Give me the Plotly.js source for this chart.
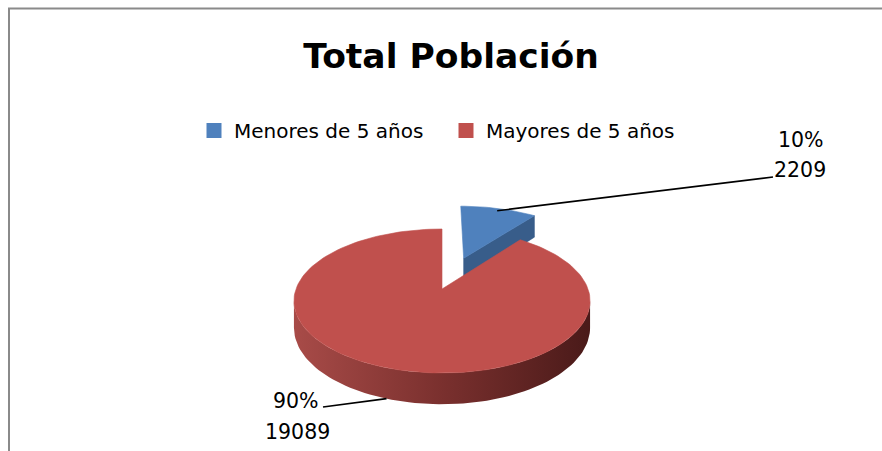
<!DOCTYPE html>
<html><head><meta charset="utf-8">
<script src="https://cdn.plot.ly/plotly-3.0.1.min.js"></script>
<style>html,body{margin:0;padding:0;background:#fff;}#chart{width:882px;height:451px;}</style>
</head><body><div id="chart"></div>
<script>
// ---- data ----
const categories = ['Menores de 5 años', 'Mayores de 5 años'];
const values = [2209, 19089];
const chartTitle = 'Total Población';

// ---- styles ----
const topColors = ['#4F81BD', '#C0504D'];
const cutColors = ['#385D8A', '#8C3836'];
const sideScale = [[0, '#a84b48'], [0.5, '#7a302e'], [1, '#4a1a19']];
const FONT = 'DejaVu Sans';

// ---- geometry (pixel space) ----
const W = 882, H = 451;
const cx = 442, cy = 289, A = 146, B = 70, K = 0.1667, D = 26;
const explode = [0.5, 0];
const deg = Math.PI / 180;
function proj(u, s, down) { const w = 1 + K * s; return [cx + A * u / w, cy - B * s / w + (down ? D / w : 0)]; }
const total = values.reduce((a, b) => a + b, 0);
let acc = 0;
const slices = values.map((v, i) => {
  const a0 = acc / total * 360; acc += v; const a1 = acc / total * 360;
  const mid = (a0 + a1) / 2, e = explode[i];
  return { a0, a1, mid, ou: e * Math.sin(mid * deg), os: e * Math.cos(mid * deg) };
});
function pt(sl, r, phi, down) { return proj(sl.ou + r * Math.sin(phi * deg), sl.os + r * Math.cos(phi * deg), down); }
function arc(sl, p0, p1, down) {
  const n = Math.max(2, Math.ceil(Math.abs(p1 - p0) / 2)); const out = [];
  for (let k = 0; k <= n; k++) out.push(pt(sl, 1, p0 + (p1 - p0) * k / n, down));
  return out;
}
function poly(points, color, extra) {
  const pts = points.concat([points[0]]);
  return Object.assign({
    type: 'scatter', mode: 'lines', x: pts.map(p => p[0]), y: pts.map(p => p[1]),
    fill: 'toself', fillcolor: color, line: { width: 0.6, color: color },
    hoverinfo: 'skip', showlegend: false
  }, extra || {});
}
const phiR = Math.acos(-K) / deg, phiL = 360 - phiR;
const traces = [];
slices.forEach((sl, i) => {
  // visible outer side
  const s0 = Math.max(sl.a0, phiR), s1 = Math.min(sl.a1, phiL);
  if (s1 > s0) {
    const top = arc(sl, s0, s1, false), bot = arc(sl, s1, s0, true);
    const t = poly(top.concat(bot), '#7a302e', { line: { width: 0 } });
    delete t.fillcolor;
    t.fillgradient = { type: 'horizontal', colorscale: sideScale };
    traces.push(t);
  }
  // cut face at end angle if it faces the viewer
  if (-Math.sin(sl.a1 * deg) < -1e-6) {
    traces.push(poly([pt(sl, 0, sl.a1, false), pt(sl, 1, sl.a1, false), pt(sl, 1, sl.a1, true), pt(sl, 0, sl.a1, true)], cutColors[i]));
  }
  // top face
  traces.push(poly([pt(sl, 0, 0, false)].concat(arc(sl, sl.a0, sl.a1, false)), topColors[i]));
});

// leader lines
const leaderEnds = [[[762, 179], [773, 177]], [[323, 407]]];
const leaderStarts = [pt(slices[0], 0.95, slices[0].mid, false), pt(slices[1], 1, slices[1].mid, true)];
leaderStarts.forEach((s, i) => {
  const pts = [s].concat(leaderEnds[i]);
  traces.push({ type: 'scatter', mode: 'lines', x: pts.map(p => p[0]), y: pts.map(p => p[1]),
    line: { color: '#000', width: 1.6 }, hoverinfo: 'skip', showlegend: false });
});

// legend entries
categories.forEach((c, i) => traces.push({
  type: 'scatter', mode: 'markers', x: [null], y: [null], name: c,
  marker: { symbol: 'square', size: 15, color: topColors[i] }, hoverinfo: 'skip', showlegend: true
}));

// labels
const pctPos = [[801, 140], [296, 401]];
const valPos = [[800, 170], [297, 432]];
const annotations = [];
values.forEach((v, i) => {
  annotations.push({ x: pctPos[i][0], y: pctPos[i][1], xref: 'x', yref: 'y', text: Math.round(v / total * 100) + '%',
    showarrow: false, font: { family: FONT, size: 20.5, color: '#000' }, xanchor: 'center', yanchor: 'middle' });
  annotations.push({ x: valPos[i][0], y: valPos[i][1], xref: 'x', yref: 'y', text: String(v),
    showarrow: false, font: { family: FONT, size: 20.5, color: '#000' }, xanchor: 'center', yanchor: 'middle' });
});

const layout = {
  width: W, height: H, margin: { l: 0, r: 0, t: 0, b: 0, pad: 0 },
  paper_bgcolor: '#fff', plot_bgcolor: 'rgba(0,0,0,0)',
  xaxis: { range: [0, W], visible: false, fixedrange: true },
  yaxis: { range: [H, 0], visible: false, fixedrange: true },
  title: { text: chartTitle, x: 451 / W, xanchor: 'center', y: 1 - 56 / H, yanchor: 'middle',
    font: { family: FONT, size: 34.5, color: '#000', weight: 'bold' } },
  showlegend: true,
  legend: { orientation: 'h', x: 194 / W, xanchor: 'left', y: 1 - 111 / H, yanchor: 'top',
    font: { family: FONT, size: 20, color: '#000' }, bgcolor: 'rgba(0,0,0,0)', entrywidth: 207,
    itemclick: false, itemdoubleclick: false, traceorder: 'normal' },
  annotations: annotations,
  shapes: [
    { type: 'line', xref: 'x', yref: 'y', x0: 8, x1: W, y0: 8.5, y1: 8.5, line: { color: '#8a8a8a', width: 2 } },
    { type: 'line', xref: 'x', yref: 'y', x0: 9, x1: 9, y0: 8, y1: H, line: { color: '#8a8a8a', width: 2 } }
  ],
  hovermode: false
};
Plotly.newPlot('chart', traces, layout, { staticPlot: true, displayModeBar: false });
</script></body></html>
